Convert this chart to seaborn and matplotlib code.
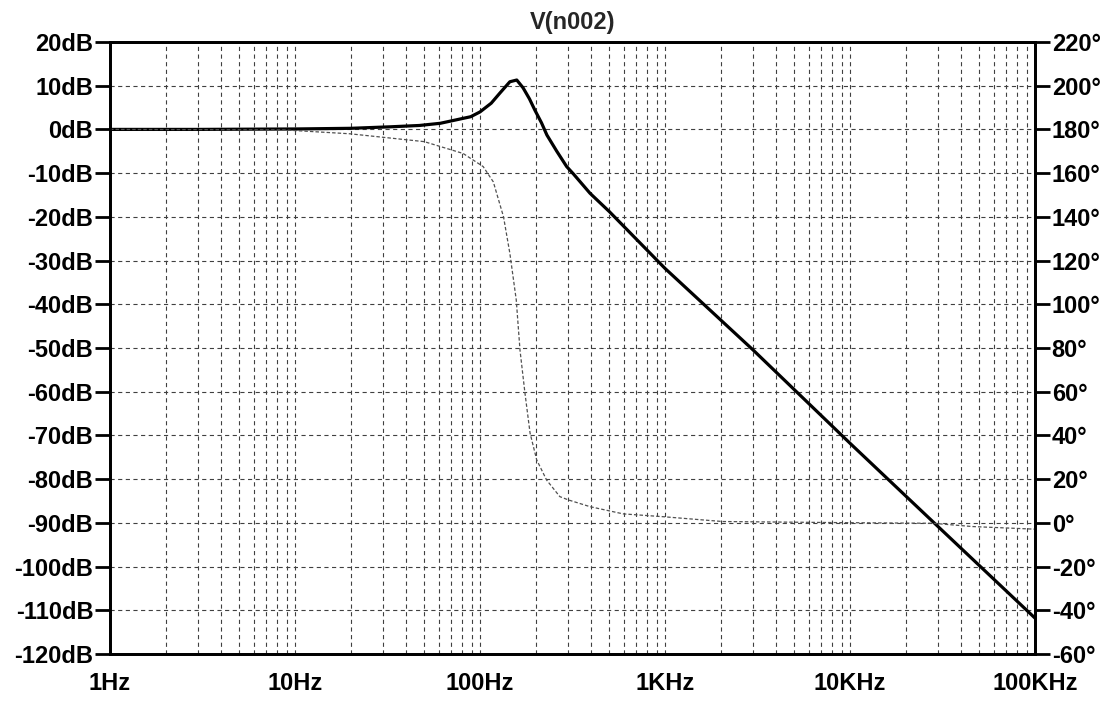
import numpy as np
import pandas as pd
import matplotlib
matplotlib.use("Agg")
import matplotlib.pyplot as plt
import matplotlib.ticker as mticker
import seaborn as sns

# magnitude of V(n002)
mag_freq = [1, 3, 10, 20, 33, 47, 61, 89, 100, 115, 128, 145, 158, 171, 185, 198,
            215, 230, 260, 294, 320, 393, 500, 1000, 3000, 10000, 28800, 100000]
mag_db = [0, 0, 0.1, 0.25, 0.6, 0.9, 1.4, 2.9, 4.0, 6.0, 8.3, 10.9, 11.3, 9.5, 7.0, 4.4,
          1.5, -1.3, -5.0, -8.5, -10.2, -14.6, -18.8, -31.8, -50.5, -71.8, -90.2, -111.8]

# phase of V(n002)
ph_freq = [1, 8.6, 19.8, 50, 81, 104, 118, 134, 145, 157, 164.5, 175, 186.5,
           202.5, 229, 270, 300, 393, 594, 980, 2050, 8800, 28000, 46000, 100000]
ph_deg = [180, 179.8, 178, 174.4, 169, 163, 156, 140, 123.3, 102, 79, 59.3, 41,
          28.8, 19.6, 12, 10.5, 7.4, 4.1, 2.8, 0.6, 0.1, -0.2, -1.7, -2.9]

db_ticks = list(range(-120, 30, 10))
deg_ticks = list(range(-60, 240, 20))
freq_ticks = [1, 10, 100, 1000, 10000, 100000]
freq_labels = ["1Hz", "10Hz", "100Hz", "1KHz", "10KHz", "100KHz"]

sns.set_style("white")
plt.rcParams['font.family'] = ['Liberation Sans', 'DejaVu Sans']
plt.rcParams['font.weight'] = 'bold'
plt.rcParams['lines.scale_dashes'] = False

fig = plt.figure(figsize=(11.12, 7.02), dpi=100)
ax = fig.add_axes([0.0989, 0.0684, 0.8319, 0.8718])
ax2 = ax.twinx()

mag = pd.DataFrame({"f": mag_freq, "db": mag_db})
ph = pd.DataFrame({"f": ph_freq, "deg": ph_deg})

sns.lineplot(data=mag, x="f", y="db", ax=ax, color="black", lw=2.3, zorder=5)
sns.lineplot(data=ph, x="f", y="deg", ax=ax2, color="#505050", lw=0.9,
             linestyle=(0, (2.5, 1.5)))

ax.set_xscale("log")
ax.set_xlim(1, 100000)
ax.set_ylim(-120, 20)
ax2.set_ylim(-60, 220)

ax.set_xticks(freq_ticks)
ax.set_xticklabels(freq_labels)
ax.xaxis.set_minor_locator(mticker.LogLocator(base=10, subs=np.arange(2, 10)))
ax.xaxis.set_minor_formatter(mticker.NullFormatter())
ax.set_yticks(db_ticks)
ax.set_yticklabels([f"{v}dB" for v in db_ticks])
ax2.set_yticks(deg_ticks)
ax2.set_yticklabels([f"{v}°" for v in deg_ticks])

grid_kw = dict(color="#404040", lw=0.8, linestyle=(0, (3, 2.5)))
ax.grid(which="major", axis="both", **grid_kw)
ax.grid(which="minor", axis="x", **grid_kw)

ax.tick_params(axis="both", which="major", direction="out", length=11, width=2,
               labelsize=17, pad=1, color="black", labelcolor="black")
ax.tick_params(axis="x", which="minor", direction="out", length=5, width=1.5,
               color="black")
ax.tick_params(axis="x", which="major", pad=2)
ax2.tick_params(axis="y", which="major", direction="out", length=11, width=2,
                labelsize=17, pad=1, color="black", labelcolor="black")

for a in (ax, ax2):
    for s in a.spines.values():
        s.set_color("black")
        s.set_linewidth(2)
    a.set_xlabel("")
    a.set_ylabel("")

ax.set_title("V(n002)", fontsize=17, fontweight="bold", pad=9)

fig.savefig("out.png", dpi=100)
